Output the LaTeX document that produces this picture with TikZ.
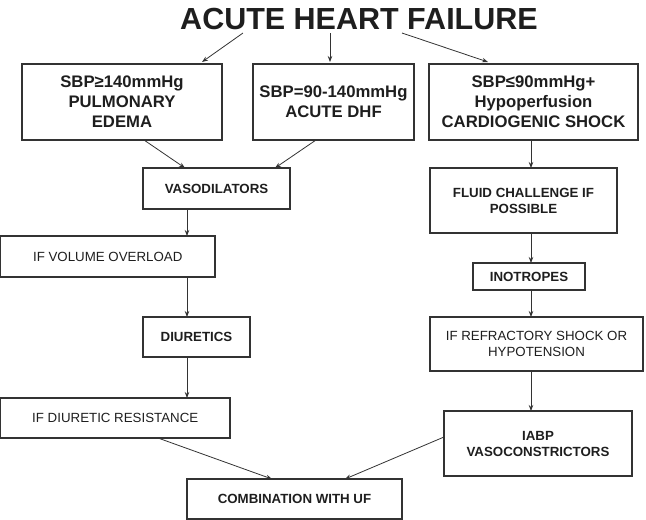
\documentclass[tikz,border=0pt]{standalone}
\usepackage{fontspec}
\setmainfont{Liberation Sans}
\usetikzlibrary{arrows.meta}
\definecolor{ink}{HTML}{1E1E1E}
\definecolor{linec}{HTML}{333333}
\newcommand\titlefont{\fontsize{30.5}{34}\selectfont\bfseries}
\newcommand\bigtxt{\fontsize{16.7}{20}\selectfont\bfseries}
\newcommand\midtxt{\fontsize{13.3}{16}\selectfont\bfseries}
\newcommand\smalltxt{\fontsize{13.3}{16}\selectfont}
\begin{document}
\begin{tikzpicture}[x=1pt,y=-1pt,
  box/.style={draw=linec, line width=1.1pt, inner sep=0pt, outer sep=0pt, align=center, text=ink},
  arr/.style={draw=linec, line width=0.8pt, -{Stealth[length=6pt,width=4.5pt]}}]
\useasboundingbox (0,0) rectangle (646,520);
\node[text=ink, font=\titlefont, inner sep=0pt] (title) at (359,19) {ACUTE HEART FAILURE};

\node[box, minimum width=200, minimum height=76, font=\bigtxt] (b1) at (122,102) {SBP≥140mmHg\\PULMONARY\\EDEMA};
\node[box, minimum width=161, minimum height=76, font=\bigtxt] (b2) at (333.5,102) {SBP=90-140mmHg\\ACUTE DHF};
\node[box, minimum width=209, minimum height=76, font=\bigtxt] (b3) at (533.5,102) {SBP≤90mmHg+\\Hypoperfusion\\CARDIOGENIC SHOCK};

\node[box, minimum width=147, minimum height=41, font=\midtxt] (vaso) at (216.5,188.5) {VASODILATORS};
\node[box, minimum width=214.5, minimum height=41, font=\smalltxt] (vol) at (107.75,256.5) {IF VOLUME OVERLOAD};
\node[box, minimum width=107, minimum height=40, font=\midtxt] (diur) at (196.5,337) {DIURETICS};
\node[box, minimum width=229.5, minimum height=40, font=\smalltxt] (dres) at (115.25,418) {IF DIURETIC RESISTANCE};
\node[box, minimum width=215, minimum height=40, font=\midtxt] (comb) at (294.5,499) {COMBINATION WITH UF};

\node[box, minimum width=187, minimum height=65, font=\midtxt] (fluid) at (523.5,200.5) {FLUID CHALLENGE IF\\POSSIBLE};
\node[box, minimum width=112, minimum height=27, font=\midtxt] (ino) at (529,276.5) {INOTROPES};
\node[box, minimum width=213, minimum height=54, font=\smalltxt] (refr) at (536.5,344) {IF REFRACTORY SHOCK OR\\HYPOTENSION};
\node[box, minimum width=188, minimum height=65, font=\midtxt] (iabp) at (538,443.5) {IABP\\VASOCONSTRICTORS};

% from title
\draw[arr] ([shift={(-116,14)}]title.center) -- ([shift={(80,-2)}]b1.north);
\draw[arr] ([shift={(-29,14)}]title.center) -- ([shift={(-3.5,-2)}]b2.north);
\draw[arr] ([shift={(43,14)}]title.center) -- ([shift={(-45.5,-2)}]b3.north);

% left column
\draw[arr] ([xshift=22]b1.south) -- ([xshift=-31.5]vaso.north);
\draw[arr] ([xshift=-17.5]b2.south) -- ([xshift=58.5]vaso.north);
\draw[arr] ([xshift=-29.5]vaso.south) -- ([xshift=-29.5]vaso.south |- vol.north);
\draw[arr] ([xshift=-9.5]diur.north |- vol.south) -- ([xshift=-9.5]diur.north);
\draw[arr] ([xshift=-9.5]diur.south) -- ([xshift=-9.5]diur.south |- dres.north);
\draw[arr] ([xshift=42.75]dres.south) -- ([xshift=-22.5]comb.north);

% right column
\draw[arr] ([xshift=-2.5]b3.south) -- ([xshift=-2.5]b3.south |- fluid.north);
\draw[arr] ([xshift=2]ino.north |- fluid.south) -- ([xshift=2]ino.north);
\draw[arr] ([xshift=2]ino.south) -- ([xshift=2]ino.south |- refr.north);
\draw[arr] ([xshift=-5.5]refr.south) -- ([xshift=-5.5]refr.south |- iabp.north);
\draw[arr] ([shift={(0,-6.5)}]iabp.west) -- ([xshift=50.5]comb.north);
\end{tikzpicture}
\end{document}
